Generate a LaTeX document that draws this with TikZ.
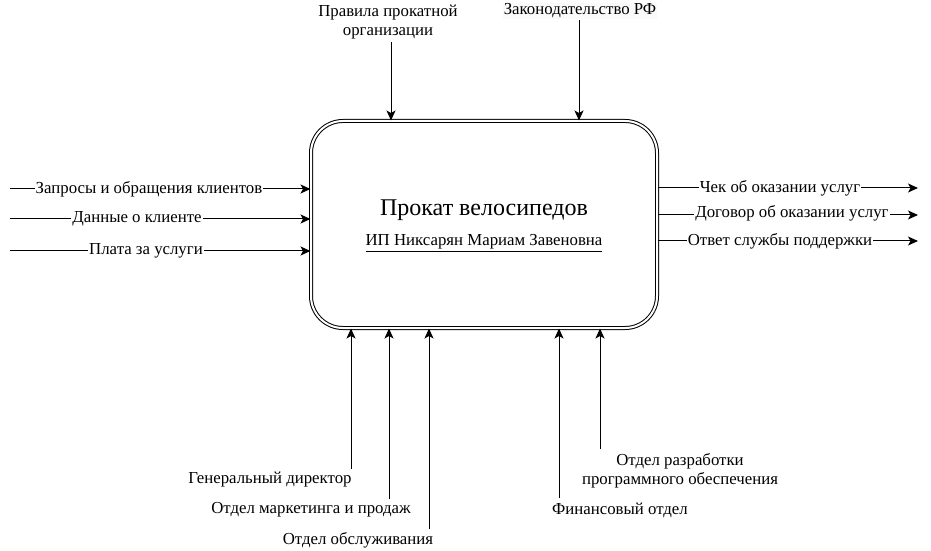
\documentclass[tikz,border=0pt]{standalone}
\usepackage{fontspec}
\setmainfont{Liberation Serif}
\usetikzlibrary{arrows.meta}
\definecolor{lblbg}{RGB}{250,250,250}
\begin{document}
\begin{tikzpicture}[x=1bp,y=-1bp,
  arr/.style={line width=1bp, -{Stealth[length=10bp,width=9bp,inset=2.5bp]}},
  lbl/.style={font=\fontsize{16.8bp}{19.5bp}\selectfont, inner sep=1bp, align=center},
  onl/.style={lbl, fill=white},
  mainbox/.style={draw, double, double distance=2bp, line width=1bp, rounded corners=32bp, minimum width=346bp, minimum height=207bp}]
\useasboundingbox (0,0) rectangle (931,551);
\node[mainbox] (box) at (484,224.5) {};
\node[font=\fontsize{24bp}{28bp}\selectfont, inner sep=0pt] (title) at (484,210) {Прокат велосипедов};
\node[lbl] (owner) at (484,243) {\underline{ИП Никсарян Мариам Завеновна}};
% inputs
\coordinate (i1) at (10,189);
\coordinate (i2) at (10,219);
\coordinate (i3) at (10,251);
\draw[arr] (i1) -- (i1 -| box.west);
\draw[arr] (i2) -- (i2 -| box.west);
\draw[arr] (i3) -- (i3 -| box.west);
\node[onl] (li1) at (149,189) {Запросы и обращения клиентов};
\node[onl] (li2) at (137,219) {Данные о клиенте};
\node[onl] (li3) at (146,251) {Плата за услуги};
% outputs
\coordinate (o1) at (918,188);
\coordinate (o2) at (918,215);
\coordinate (o3) at (918,241);
\draw[arr] (o1 -| box.east) -- (o1);
\draw[arr] (o2 -| box.east) -- (o2);
\draw[arr] (o3 -| box.east) -- (o3);
\node[onl] (lo1) at (780,188) {Чек об оказании услуг};
\node[onl] (lo2) at (792,213) {Договор об оказании услуг};
\node[onl] (lo3) at (780,241) {Ответ службы поддержки};
% controls
\node[lbl] (lc1) at (388,22) {Правила прокатной\\организации};
\node[lbl, fill=lblbg] (lc2) at (580,11) {Законодательство РФ};
\coordinate (c1) at (391,42);
\coordinate (c2) at (579,20);
\draw[arr] (c1) -- (c1 |- box.north);
\draw[arr] (c2) -- (c2 |- box.north);
% mechanisms
\coordinate (m1) at (351,469);
\coordinate (m2) at (389,499);
\coordinate (m3) at (429,529);
\coordinate (m4) at (559,498);
\coordinate (m5) at (600,449);
\draw[arr] (m1) -- (m1 |- box.south);
\draw[arr] (m2) -- (m2 |- box.south);
\draw[arr] (m3) -- (m3 |- box.south);
\draw[arr] (m4) -- (m4 |- box.south);
\draw[arr] (m5) -- (m5 |- box.south);
\node[lbl] (lm1) at (270,480) {Генеральный директор};
\node[lbl] (lm2) at (311,510) {Отдел маркетинга и продаж};
\node[lbl] (lm3) at (358,540) {Отдел обслуживания};
\node[lbl] (lm4) at (620,510) {Финансовый отдел};
\node[lbl, font=\fontsize{16.8bp}{18.5bp}\selectfont] (lm5) at (680,471) {Отдел разработки\\программного обеспечения};
\end{tikzpicture}
\end{document}
